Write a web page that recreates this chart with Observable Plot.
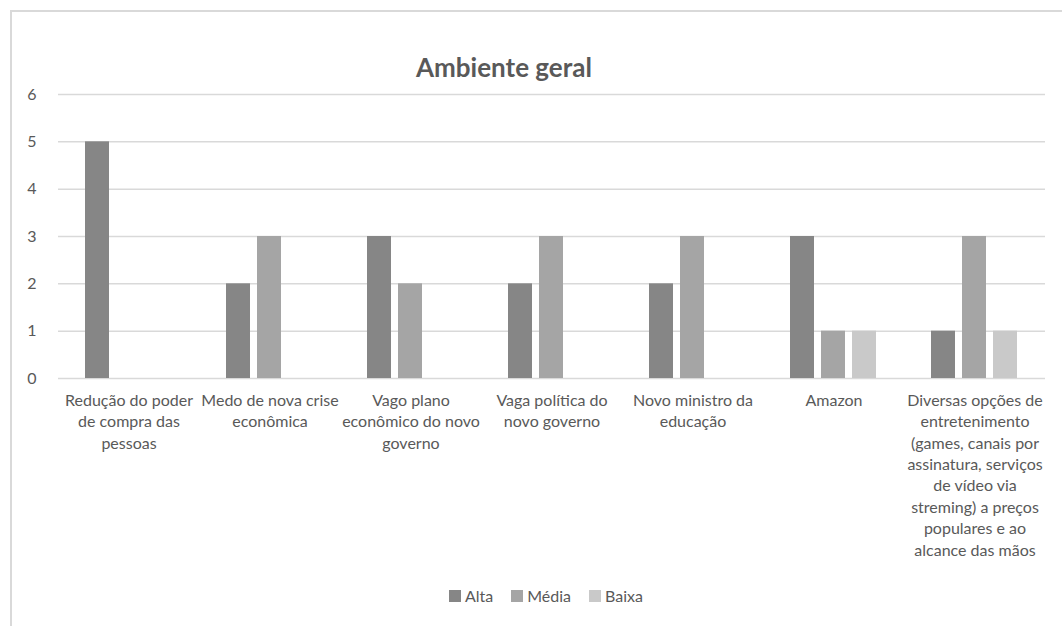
<!DOCTYPE html>
<html>
<head>
<meta charset="utf-8">
<script src="https://cdn.jsdelivr.net/npm/d3@7"></script>
<script src="https://cdn.jsdelivr.net/npm/@observablehq/plot@0.6"></script>
<style>
  html, body { margin: 0; padding: 0; background: #fff; width: 1062px; height: 626px; overflow: hidden; }
  body { position: relative; font-family: Lato, "Open Sans", sans-serif; color: #595959; }
  #frame { position: absolute; left: 10px; top: 10px; width: 1100px; height: 700px;
           border-top: 2px solid #d9d9d9; border-left: 2px solid #d9d9d9; box-sizing: border-box; }
  #title { position: absolute; top: 51px; left: 404px; width: 200px; text-align: center;
           font-weight: bold; font-size: 26px; color: #595959; white-space: nowrap; }
  #chart { position: absolute; left: 0; top: 80px; }
  #legend { position: absolute; top: 586px; left: 0; width: 1092px; display: flex; justify-content: center;
            font-size: 16px; color: #595959; }
  .item { display: flex; align-items: center; margin: 0 9px; }
  .sw { width: 12px; height: 12px; margin-right: 4px; }
</style>
</head>
<body>
<div id="frame"></div>
<div id="title">Ambiente geral</div>
<div id="chart"></div>
<div id="legend"></div>
<script>
const categories = [
  "Redução do poder de compra das pessoas",
  "Medo de nova crise econômica",
  "Vago plano econômico do novo governo",
  "Vaga política do novo governo",
  "Novo ministro da educação",
  "Amazon",
  "Diversas opções de entretenimento (games, canais por assinatura, serviços de vídeo via streming) a preços populares e ao alcance das mãos"
];
const tickLabels = [
  "Redução do poder\nde compra das\npessoas",
  "Medo de nova crise\neconômica",
  "Vago plano\neconômico do novo\ngoverno",
  "Vaga política do\nnovo governo",
  "Novo ministro da\neducação",
  "Amazon",
  "Diversas opções de\nentretenimento\n(games, canais por\nassinatura, serviços\nde vídeo via\nstreming) a preços\npopulares e ao\nalcance das mãos"
];
const series = ["Alta", "Média", "Baixa"];
const alta  = [5, 2, 3, 2, 2, 3, 1];
const media = [0, 3, 2, 3, 3, 1, 3];
const baixa = [0, 0, 0, 0, 0, 1, 1];
const colors = ["#868686", "#a5a5a5", "#c9c9c9"];
const yTicks = [0, 1, 2, 3, 4, 5, 6];

const valuesBySeries = [alta, media, baixa];
const data = [];
categories.forEach((c, i) => {
  series.forEach((s, j) => {
    data.push({cat: c, serie: s, value: valuesBySeries[j][i]});
  });
});

const chart = Plot.plot({
  width: 1062,
  height: 500,
  marginLeft: 55,
  marginRight: 14,
  marginTop: 14,
  marginBottom: 202,
  style: {fontFamily: "Lato, 'Open Sans', sans-serif", color: "#595959", background: "transparent"},
  fx: {domain: categories, padding: 0},
  x: {domain: series, paddingInner: 0.22, paddingOuter: 0.83, axis: null},
  y: {domain: [0, 6]},
  color: {domain: series, range: colors},
  marks: [
    Plot.ruleY(yTicks, {y: d => d, stroke: "#d9d9d9", strokeWidth: 1.5}),
    Plot.barY(data.filter(d => d.value > 0), {fx: "cat", x: "serie", y: "value", fill: "serie"}),
    Plot.axisY({ticks: yTicks, tickFormat: d3.format("d"), tickSize: 0, tickPadding: 22, fontSize: 16, label: null}),
    Plot.axisFx({anchor: "bottom", tickSize: 0, tickPadding: 12, fontSize: 16, lineHeight: 1.34, label: null,
                 tickFormat: d => tickLabels[categories.indexOf(d)]})
  ]
});
document.getElementById("chart").appendChild(chart);

const legend = document.getElementById("legend");
series.forEach((s, j) => {
  const it = document.createElement("div");
  it.className = "item";
  const sw = document.createElement("span");
  sw.className = "sw";
  sw.style.background = colors[j];
  const t = document.createElement("span");
  t.textContent = s;
  it.appendChild(sw);
  it.appendChild(t);
  legend.appendChild(it);
});
</script>
</body>
</html>
